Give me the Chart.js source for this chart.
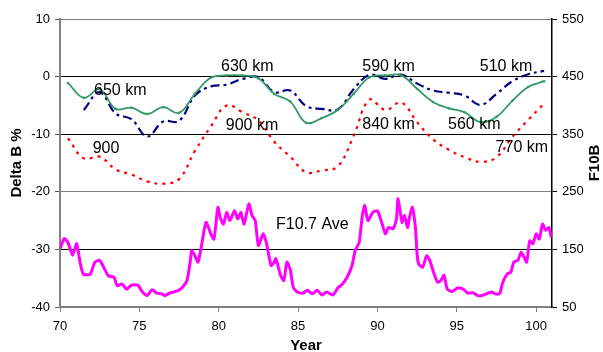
<!DOCTYPE html>
<html>
<head>
<meta charset="utf-8">
<script src="https://cdn.jsdelivr.net/npm/chart.js@4/dist/chart.umd.min.js"></script>
<style>
  html, body { margin: 0; padding: 0; background: #fff; }
  canvas { display: block; }
</style>
</head>
<body>
<canvas id="c" width="603" height="352"></canvas>
<script>
// ---- Data ----
const ringYears = [70.5,71.5,72.5,73.5,74.5,75.5,76.5,77.5,78.5,79.5,80.5,81.5,82.5,83.5,84.5,85.5,86.5,87.5,88.5,89.5,90.5,91.5,92.5,93.5,94.5,95.5,96.5,97.5,98.5,99.5,100.5];
const deltaGreen = [-1.1,-3.7,-2.2,-5.6,-5.4,-6.5,-5.3,-6.3,-3.0,-0.2,0.2,0.2,-0.3,-3.0,-4.3,-8.0,-7.2,-5.8,-3.0,-0.1,0.2,0.2,-2.1,-4.4,-5.5,-6.2,-7.9,-7.0,-4.2,-1.8,-0.8];
const deltaNavy = [null,-5.8,-2.7,-6.4,-7.4,-10.4,-7.8,-7.7,-3.3,-1.7,-1.4,-0.4,-0.1,-2.7,-2.4,-5.1,-5.6,-5.7,-2.2,0.3,-0.4,0.35,-1.2,-2.4,-2.8,-3.3,-4.9,-3.0,-0.8,0.4,1.0];
const deltaRed = [-10.7,-14.2,-13.9,-16.1,-17.0,-18.2,-18.6,-17.8,-12.9,-8.7,-5.0,-6.2,-7.6,-11.3,-13.9,-16.6,-16.3,-15.6,-10.3,-4.0,-5.8,-4.5,-7.9,-10.9,-12.7,-14.0,-14.8,-14.0,-10.5,-7.5,-4.7];

const f107Years = [70.0,70.27,70.5,70.8,71.05,71.26,71.47,71.9,72.2,72.5,72.7,73.05,73.4,73.6,73.9,74.2,74.5,74.9,75.2,75.5,75.8,76.1,76.4,76.6,76.9,77.4,77.7,78.0,78.2,78.3,78.5,78.7,78.95,79.2,79.5,79.7,79.95,80.1,80.3,80.5,80.7,81.0,81.2,81.4,81.6,81.9,82.1,82.3,82.5,82.8,83.0,83.3,83.5,83.6,83.9,84.1,84.3,84.5,84.7,84.95,85.3,85.6,85.9,86.2,86.5,86.8,87.2,87.5,87.8,88.1,88.4,88.6,88.85,89.05,89.2,89.4,89.7,90.0,90.3,90.5,90.7,91.0,91.2,91.3,91.55,91.7,91.9,92.0,92.2,92.4,92.5,92.6,92.85,93.1,93.3,93.6,93.8,94.0,94.2,94.4,94.7,95.05,95.4,95.7,96.0,96.3,96.6,97.2,97.4,97.7,97.9,98.2,98.4,98.6,98.85,99.05,99.2,99.4,99.6,99.8,100.0,100.2,100.4,100.6,100.8,100.95];
const f107Values = [151,169,162,140,160,128,107,107,128,131,122,104,102,87,90,81,88,88,76,70,80,74,73,70,74,78,84,96,128,148,139,128,162,197,177,168,223,205,194,214,200,217,203,214,194,229,209,200,157,177,162,122,128,134,105,96,128,116,84,76,74,79,73,79,71,76,71,83,90,102,122,148,162,209,226,200,214,217,194,177,188,186,203,238,197,209,188,203,223,186,142,125,119,139,131,105,93,96,105,81,77,83,81,74,75,70,70,76,73,73,93,108,110,128,131,145,139,128,165,160,177,168,194,183,188,171];

const leftTicks = [-40,-30,-20,-10,0,10];
const rightTicks = [50,150,250,350,450,550];
const xTicks = [70,75,80,85,90,95,100];

const noteTexts = ["650 km","900","630 km","900 km","590 km","840 km","510 km","560 km","770 km","F10.7 Ave"];
const noteYears = [73.8,72.9,81.8,82.1,90.7,90.7,98.1,96.1,99.1,85.9];
const noteDeltas = [-2.4,-12.5,1.75,-8.5,1.75,-8.3,1.75,-8.3,-12.3,-25.7];

// ---- Build ----
const pts = (xs, ys) => xs.map((x, i) => ({x: x, y: ys[i]}));
const FONT = "'Liberation Sans', Arial, sans-serif";

const notesPlugin = {
  id: 'notes',
  afterDatasetsDraw(chart) {
    const {ctx, scales} = chart;
    ctx.save();
    ctx.font = "16px " + FONT;
    ctx.fillStyle = '#000';
    ctx.textAlign = 'center';
    ctx.textBaseline = 'middle';
    noteTexts.forEach((t, i) => {
      ctx.fillText(t, scales.x.getPixelForValue(noteYears[i]), scales.y.getPixelForValue(noteDeltas[i]));
    });
    // right axis title (reads bottom to top)
    const a = chart.chartArea;
    ctx.font = "bold 15px " + FONT;
    ctx.translate(595, (a.top + a.bottom) / 2);
    ctx.rotate(-Math.PI / 2);
    ctx.fillText('F10B', 0, 0);
    ctx.restore();
  }
};

new Chart(document.getElementById('c'), {
  type: 'line',
  data: {
    datasets: [
      { data: pts(ringYears, deltaGreen), borderColor: '#339966', backgroundColor: '#339966', borderWidth: 1.8, pointRadius: 1.3, pointBorderWidth: 0, tension: 0.4, yAxisID: 'y' },
      { data: pts(ringYears, deltaNavy), borderColor: '#000080', borderWidth: 2.2, borderDash: [9, 4, 3, 4], pointRadius: 0, tension: 0.4, yAxisID: 'y' },
      { data: pts(ringYears, deltaRed), borderColor: '#ff0000', borderWidth: 2.2, borderDash: [3, 5], pointRadius: 0, tension: 0.4, yAxisID: 'y' },
      { data: pts(f107Years, f107Values), borderColor: '#ff00ff', borderWidth: 3, pointRadius: 0, tension: 0.2, yAxisID: 'y2' }
    ]
  },
  options: {
    responsive: false,
    animation: false,
    events: [],
    layout: { padding: { top: 19, left: 0, right: 0, bottom: 0 } },
    plugins: { legend: { display: false }, tooltip: { enabled: false } },
    scales: {
      x: {
        type: 'linear', min: 70, max: 101,
        afterBuildTicks(s) { s.ticks = xTicks.map(v => ({value: v})); },
        afterFit(s) { s.height = 45; },
        ticks: { font: { family: FONT, size: 13 }, color: '#000', padding: 7, maxRotation: 0 },
        grid: { drawOnChartArea: false, tickLength: 5, color: '#808080', lineWidth: 1 },
        border: { color: '#808080', width: 2 },
        title: { display: true, text: 'Year', font: { family: FONT, size: 15, weight: 'bold' }, color: '#000', padding: { top: 0, bottom: -3 } }
      },
      y: {
        position: 'left', min: -40, max: 10,
        afterBuildTicks(s) { s.ticks = leftTicks.map(v => ({value: v})); },
        afterFit(s) { s.width = 60; },
        ticks: { font: { family: FONT, size: 13 }, color: '#000', padding: 5 },
        grid: {
          tickLength: 5, lineWidth: 1,
          color: c => (c.tick && (c.tick.value === 10 || c.tick.value === -20 || c.tick.value === -40)) ? '#808080' : '#000',
          tickColor: '#555'
        },
        border: { color: '#808080', width: 2 },
        title: { display: true, text: 'Delta B %', font: { family: FONT, size: 15, weight: 'bold' }, color: '#000', padding: { top: 8, bottom: 0 } }
      },
      y2: {
        position: 'right', min: 50, max: 550,
        afterBuildTicks(s) { s.ticks = rightTicks.map(v => ({value: v})); },
        afterFit(s) { s.width = 51; },
        ticks: { font: { family: FONT, size: 13 }, color: '#000', padding: 5 },
        grid: { drawOnChartArea: false, tickLength: 5, color: '#000' },
        border: { color: '#000', width: 1.5 }
      }
    }
  },
  plugins: [notesPlugin]
});
</script>
</body>
</html>
